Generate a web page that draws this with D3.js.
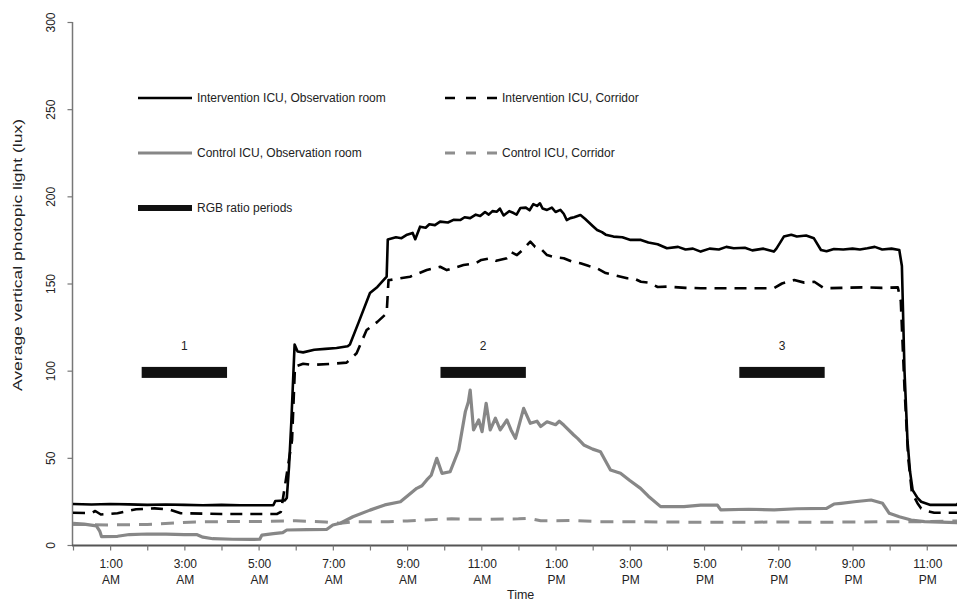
<!DOCTYPE html>
<html><head><meta charset="utf-8">
<script src="https://cdn.jsdelivr.net/npm/d3@7"></script>
<style>
body{margin:0;background:#fff;}
svg{display:block;font-family:Arial,"Liberation Sans",sans-serif;}
</style></head>
<body><svg id="c" width="957" height="601"></svg>
<script>
// ---- data (hour of day, lux) ----
const intRoom = [[0,23.5],[0.5,23.2],[1,23.5],[1.5,23.3],[2,23],[2.5,23.2],[3,23],[3.5,22.8],[4,23],[4.5,22.8],[5,22.8],[5.4,22.9],[5.45,25.2],[5.7,25.5],[5.76,27],[5.82,45],[5.88,70],[5.93,95],[5.97,115],[6.05,111],[6.2,110.5],[6.5,112],[6.8,112.5],[7.1,113],[7.4,114],[7.46,115],[7.7,128],[8.0,144.5],[8.2,148],[8.45,154],[8.48,175.3],[8.7,176.5],[8.85,176],[9.0,178],[9.15,179],[9.22,175.4],[9.35,182.6],[9.5,182],[9.6,184],[9.75,183.5],[9.89,185.5],[10.1,185],[10.25,186.5],[10.43,186.4],[10.55,188],[10.7,187.5],[10.85,189.5],[10.97,188.7],[11.1,191],[11.2,189.5],[11.3,191.5],[11.42,191.2],[11.5,193],[11.6,189],[11.75,191.5],[11.87,190.4],[11.95,189.5],[12.05,193.3],[12.2,193.5],[12.3,192],[12.4,195.5],[12.5,194.5],[12.58,196],[12.65,193],[12.77,192.2],[12.9,193.5],[13.0,191],[13.13,192.2],[13.22,190],[13.3,186.4],[13.4,187.5],[13.5,188],[13.67,189.3],[13.8,187],[13.9,185],[14.0,183],[14.12,180.7],[14.25,179.5],[14.35,178],[14.56,176.9],[14.8,176.5],[15.02,175],[15.3,175],[15.5,173.5],[15.75,172.5],[16.0,170.2],[16.3,171],[16.5,169.5],[16.7,170],[16.91,168.3],[17.15,170],[17.4,169.5],[17.6,171],[17.8,170.2],[18.1,170.5],[18.3,169],[18.6,170],[18.88,168.3],[18.95,170],[19.15,176.9],[19.35,178],[19.5,177],[19.75,177.5],[19.96,175.9],[20.15,169.2],[20.3,168.5],[20.5,169.8],[20.75,169.5],[21.0,170],[21.2,169.5],[21.4,170.2],[21.6,171],[21.8,169.5],[22.05,170],[22.26,169.2],[22.33,160],[22.40,100],[22.48,60],[22.55,42],[22.62,31.5],[22.75,27],[22.85,24.8],[23.1,23],[23.5,23],[23.8,23],[23.9,25]];
const intCorr = [[0,18.5],[0.5,18.3],[0.6,19.5],[0.75,17.5],[1.2,18.2],[1.7,20.5],[2.2,21],[2.6,20.3],[2.9,18.2],[3.5,18],[4,17.8],[4.5,17.8],[5,17.8],[5.5,17.8],[5.6,19],[5.9,60],[5.98,102.3],[6.2,104],[6.47,103.3],[7.0,104],[7.37,104.6],[7.64,110],[7.91,123.3],[8.2,128],[8.45,132.9],[8.5,152],[8.54,152],[9.08,153.9],[9.53,157.7],[9.89,159.6],[10.07,157.7],[10.52,160.6],[10.84,161.6],[11.0,163.5],[11.24,164.5],[11.4,163],[11.69,164.5],[11.8,168],[11.96,166.3],[12.1,169],[12.32,174],[12.45,171],[12.59,170.2],[12.77,166.3],[13.0,165],[13.22,164.5],[13.45,162.5],[13.67,161.6],[13.9,160],[14.12,158.7],[14.35,156],[14.57,154.9],[14.93,153],[15.1,153],[15.3,151],[15.5,150.5],[15.75,148],[16.0,148.2],[16.5,147.5],[16.91,147.3],[17.4,147.3],[17.8,147.3],[18.4,147.3],[18.88,147.3],[19.1,150],[19.43,152],[19.7,150.5],[19.97,151],[20.23,147.3],[20.7,147.5],[21.3,147.8],[21.8,147.5],[22.22,147.8],[22.3,140],[22.4,90],[22.5,50],[22.6,30],[22.75,24],[22.85,21],[23.0,19.5],[23.2,18.5],[23.9,18.5]];
const ctrlRoom = [[0,12.4],[0.3,12],[0.63,11],[0.72,8],[0.77,4.8],[1.2,5],[1.52,6],[2.0,6.3],[2.5,6.2],[3.0,6],[3.33,6],[3.5,4.5],[3.77,3.6],[4.3,3.3],[4.8,3.2],[5.03,3.3],[5.09,5.7],[5.4,6.5],[5.65,7.1],[5.76,8.6],[6.3,8.8],[6.84,9],[7.0,11.5],[7.2,12.5],[7.54,16.2],[8.0,20],[8.4,23],[8.82,24.8],[9.0,28],[9.26,32.5],[9.4,34],[9.53,37.3],[9.65,40],[9.8,49.7],[9.94,41.1],[10.16,42],[10.39,54.5],[10.57,76.5],[10.65,82],[10.7,88.9],[10.79,66],[10.93,71.7],[11.02,65],[11.13,81.3],[11.24,66],[11.38,72.7],[11.51,66],[11.69,71.7],[11.8,66],[11.92,61.2],[12.14,78.4],[12.32,69.8],[12.5,71],[12.6,68],[12.77,70.7],[13.0,69],[13.1,71],[13.22,68.8],[13.49,63.1],[13.6,61],[13.76,57.4],[14.0,55],[14.21,53.5],[14.48,43],[14.75,41.1],[15.0,37],[15.29,32.5],[15.5,28],[15.83,22],[16.46,22],[16.91,22.9],[17.36,22.9],[17.45,20.1],[18.2,20.5],[18.89,20.1],[19.5,20.8],[20.3,21],[20.5,23.5],[20.69,23.9],[21.05,24.8],[21.5,25.8],[21.81,23.9],[21.99,18.2],[22.26,16.2],[22.58,14.3],[22.94,13.4],[23.9,12.8]];
const ctrlCorr = [[0,11.8],[1,11.5],[2,11.8],[3.3,13.2],[4,13.4],[5,13.5],[6,13.9],[6.8,13.2],[7.2,12.5],[7.6,13.4],[8.5,13.4],[9,13.8],[9.8,14.7],[10.2,15],[11,14.7],[12,15],[12.3,15.3],[12.6,13.9],[13.5,14],[14.2,13.4],[15,13.4],[16,13.2],[17,13],[18,13],[19,13.2],[20,13],[21,13.2],[22,13.4],[23,13.4],[23.9,13.8]];

const rgbStart = [1.85, 9.9, 17.95];
const rgbEnd = [4.15, 12.2, 20.25];
const rgbLabels = ["1", "2", "3"];
const rgbLevel = 99;

const yTicks = [0, 50, 100, 150, 200, 250, 300];
const xTickHours = [1, 3, 5, 7, 9, 11, 13, 15, 17, 19, 21, 23];
const xTickTop = ["1:00","3:00","5:00","7:00","9:00","11:00","1:00","3:00","5:00","7:00","9:00","11:00"];
const xTickBottom = ["AM","AM","AM","AM","AM","AM","PM","PM","PM","PM","PM","PM"];

const seriesNames = ["Intervention ICU, Observation room","Intervention ICU, Corridor","Control ICU, Observation room","Control ICU, Corridor","RGB ratio periods"];

// ---- drawing ----
const svg = d3.select("#c");
const x = d3.scaleLinear().domain([0, 24]).range([73, 73 + 24 * 37.12]);
const y = d3.scaleLinear().domain([0, 300]).range([545, 22]);
const txt = "#222";

// y axis
const yAx = svg.append("g").attr("transform", "translate(72.5,0)")
  .call(d3.axisLeft(y).tickValues(yTicks).tickSize(5).tickFormat(() => ""));
yAx.select(".domain").attr("stroke", "#777").attr("stroke-width", 1.5).attr("d", `M0,${y(300)}V${y(0)}`);
yAx.selectAll(".tick line").attr("stroke", "#777").attr("stroke-width", 1.2);
yAx.selectAll(".tick").append("text")
  .attr("transform", "translate(-22,0) rotate(-90)")
  .attr("text-anchor", "middle").attr("dy", "0.35em")
  .attr("fill", txt).attr("font-size", 12)
  .text(d => d);

// x axis
const xAx = svg.append("g").attr("transform", "translate(0,545.5)")
  .call(d3.axisBottom(x).tickValues(d3.range(0, 25)).tickSize(5).tickFormat(() => ""));
xAx.select(".domain").attr("stroke", "#555").attr("stroke-width", 2.2).attr("d", `M72,0H957`);
xAx.selectAll(".tick line").attr("stroke", "#777").attr("stroke-width", 1.2);
const lab = xAx.selectAll(".tlab").data(xTickHours).enter().append("text")
  .attr("class", "tlab").attr("text-anchor", "middle").attr("fill", txt).attr("font-size", 12)
  .attr("transform", d => `translate(${x(d) + 1},0)`);
lab.append("tspan").attr("x", 0).attr("y", 22).text((d, i) => xTickTop[i]);
lab.append("tspan").attr("x", 0).attr("y", 38).text((d, i) => xTickBottom[i]);

// axis titles
svg.append("text").attr("transform", "translate(22,255) rotate(-90)")
  .attr("text-anchor", "middle").attr("fill", txt).attr("font-size", 12.5)
  .attr("textLength", 272).attr("lengthAdjust", "spacingAndGlyphs")
  .text("Average vertical photopic light (lux)");
svg.append("text").attr("x", 507).attr("y", 599).attr("fill", txt).attr("font-size", 12.5).text("Time");

// lines
svg.append("clipPath").attr("id", "pc").append("rect")
  .attr("x", 72).attr("y", 15).attr("width", 885).attr("height", 535);
const line = d3.line().x(d => x(d[0])).y(d => y(d[1]));
const styles = [
  {data: ctrlCorr, stroke: "#8e8e8e", w: 3, dash: "13,9"},
  {data: ctrlRoom, stroke: "#878787", w: 3.2, dash: null},
  {data: intCorr, stroke: "#000", w: 2.6, dash: "12,8"},
  {data: intRoom, stroke: "#000", w: 2.6, dash: null}
];
const gl = svg.append("g").attr("clip-path", "url(#pc)");
styles.forEach(s => {
  gl.append("path").datum(s.data).attr("d", line).attr("fill", "none")
    .attr("stroke", s.stroke).attr("stroke-width", s.w)
    .attr("stroke-dasharray", s.dash).attr("stroke-linejoin", "round");
});

// RGB ratio periods
rgbStart.forEach((s, i) => {
  svg.append("rect").attr("x", x(s)).attr("y", y(rgbLevel) - 5.5)
    .attr("width", x(rgbEnd[i]) - x(s)).attr("height", 11).attr("fill", "#111");
  svg.append("text").attr("x", (x(s) + x(rgbEnd[i])) / 2).attr("y", y(rgbLevel) - 22)
    .attr("text-anchor", "middle").attr("fill", txt).attr("font-size", 12).text(rgbLabels[i]);
});

// legend
const leg = [
  {x0: 138, x1: 192, y: 98, stroke: "#000", w: 2.6, dash: null, name: seriesNames[0]},
  {x0: 445, x1: 497, y: 98, stroke: "#000", w: 2.6, dash: "10,11", name: seriesNames[1]},
  {x0: 138, x1: 192, y: 153, stroke: "#878787", w: 3, dash: null, name: seriesNames[2]},
  {x0: 445, x1: 497, y: 153, stroke: "#8e8e8e", w: 3, dash: "10,11", name: seriesNames[3]},
  {x0: 138, x1: 192, y: 208, stroke: "#111", w: 6, dash: null, name: seriesNames[4]}
];
leg.forEach(l => {
  svg.append("line").attr("x1", l.x0).attr("x2", l.x1).attr("y1", l.y).attr("y2", l.y)
    .attr("stroke", l.stroke).attr("stroke-width", l.w).attr("stroke-dasharray", l.dash);
  svg.append("text").attr("x", l.x1 + 5).attr("y", l.y).attr("dy", "0.35em")
    .attr("fill", txt).attr("font-size", 12).text(l.name);
});
</script></body></html>
